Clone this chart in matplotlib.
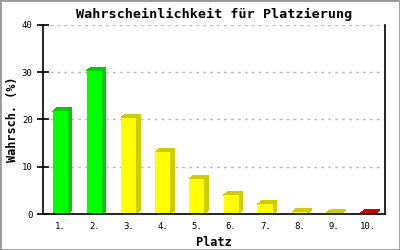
import numpy as np
import matplotlib
matplotlib.use("Agg")
import matplotlib.pyplot as plt
from matplotlib.patches import Rectangle, Polygon

# Daten
plaetze = ["1.", "2.", "3.", "4.", "5.", "6.", "7.", "8.", "9.", "10."]
wahrsch = [21.7, 30.3, 20.4, 13.1, 7.4, 4.0, 2.1, 0.4, 0.15, 0.15]

# Farben (Vorderseite, Schatten)
front = ["#00ff00"] * 2 + ["#ffff00"] * 7 + ["#ff0000"]
side = ["#00cc00"] * 2 + ["#cccc00"] * 7 + ["#cc0000"]

mono = "DejaVu Sans Mono"

fig = plt.figure(figsize=(4, 2.5), dpi=100)
ax = fig.add_axes([0.1075, 0.144, 0.855, 0.756])

x = np.arange(len(plaetze))
w = 0.44
ax.set_xlim(-0.5, len(plaetze) - 0.5)
ax.set_ylim(0, 40)

# 3D-Versatz: 4 px nach rechts, 3.5 px nach oben
bb = ax.get_window_extent()
dx = 4 * (len(plaetze)) / bb.width
dy = 3.5 * 40 / bb.height

bars = ax.bar(x, wahrsch, width=w, color=front, zorder=3, linewidth=0,
              antialiased=False)
for b, c in zip(bars, side):
    x0, h = b.get_x(), b.get_height()
    x1 = x0 + w
    top = Polygon([(x0, h), (x1, h), (x1 + dx, h + dy), (x0 + dx, h + dy)],
                  closed=True, facecolor=c, edgecolor="none", zorder=2,
                  antialiased=False)
    rs = Polygon([(x1, 0), (x1 + dx, dy), (x1 + dx, h + dy), (x1, h)],
                 closed=True, facecolor=c, edgecolor="none", zorder=2,
                 antialiased=False)
    ax.add_patch(top)
    ax.add_patch(rs)

ax.set_yticks([0, 10, 20, 30, 40])
ax.set_xticks(x)
ax.set_xticklabels(plaetze)
ax.yaxis.grid(True, color="#bbbbbb", linestyle=(0, (2, 3)), linewidth=1)
ax.set_axisbelow(True)

for lbl in ax.get_xticklabels() + ax.get_yticklabels():
    lbl.set_family(mono)
    lbl.set_fontsize(6.5)

ax.tick_params(axis="x", length=0, pad=6)
ax.tick_params(axis="y", direction="inout", length=9, width=1.2, pad=3)

ax.spines["top"].set_visible(False)
for s in ["left", "bottom", "right"]:
    ax.spines[s].set_linewidth(1.2)
    ax.spines[s].set_zorder(4)

ax.set_title("Wahrscheinlichkeit für Platzierung", family=mono,
             fontweight="bold", fontsize=9.7, pad=5)
ax.set_xlabel("Platz", family=mono, fontweight="bold", fontsize=8.6, labelpad=3)
ax.set_ylabel("Wahrsch. (%)", family=mono, fontweight="bold", fontsize=8.6,
              labelpad=2)

# grauer Rahmen
fig.patches.append(Rectangle((0, 0), 1, 1, transform=fig.transFigure,
                             fill=False, edgecolor="#999999", linewidth=2))

fig.savefig("out.png", dpi=100)
